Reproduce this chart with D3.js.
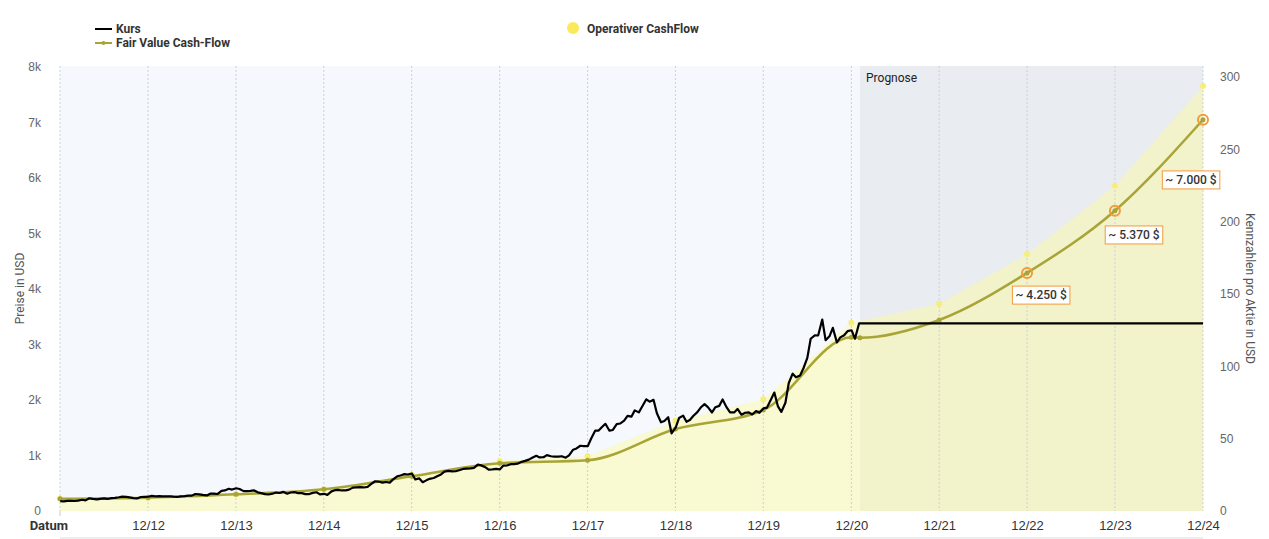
<!DOCTYPE html>
<html>
<head>
<meta charset="utf-8">
<script src="https://cdn.jsdelivr.net/npm/d3@7"></script>
<style>
    body { margin: 0; background: #fff; font-family: Roboto, "Noto Sans", sans-serif; }
    .achse text { font-size: 12px; fill: #666; }
    .xachse text { font-size: 13px; fill: #333; }
</style>
</head>
<body>
<script>
//Kurs, halbmonatlich ab 01.01.2012 (1. und 15. jedes Monats)
var kursWerte = [
    179, 175, 184, 183, 180, 186, 202, 191, 230, 218, 208, 219, 228, 217, 233, 238, 248, 260, 254, 244, 233, 226, 252, 254,
    257, 272, 265, 268, 265, 262, 266, 258, 253, 264, 269, 276, 277, 306, 301, 290, 280, 312, 312, 306, 364, 370, 400, 386,
    410, 396, 358, 357, 362, 372, 336, 323, 304, 297, 312, 332, 324, 345, 312, 333, 339, 323, 322, 305, 305, 327, 338, 300,
    310, 290, 354, 375, 380, 370, 372, 385, 421, 426, 429, 424, 434, 483, 536, 531, 512, 522, 512, 570, 626, 640, 664, 658,
    676, 570, 587, 520, 552, 580, 594, 625, 659, 710, 722, 715, 716, 735, 758, 764, 769, 778, 837, 822, 790, 745, 750, 760,
    750, 818, 823, 843, 845, 852, 886, 903, 925, 960, 995, 965, 968, 1006, 987, 980, 980, 987, 961, 1002, 1105, 1127, 1176, 1168,
    1169, 1305, 1450, 1450, 1512, 1571, 1447, 1460, 1566, 1576, 1629, 1715, 1700, 1813, 1777, 1882, 2013, 1970, 2003, 1760, 1598, 1620, 1690, 1400,
    1502, 1675, 1718, 1608, 1640, 1712, 1781, 1864, 1926, 1871, 1775, 1870, 1894, 2010, 1867, 1776, 1776, 1839, 1736, 1767, 1777, 1739, 1800, 1769,
    1848, 1862, 2008, 2134, 1884, 1785, 1950, 2307, 2474, 2409, 2442, 2572, 2759, 3104, 3165, 3162, 3450, 3078, 3148, 3300, 3036, 3128, 3168, 3240,
    3256, 3104, 3380
];
var kursLetzter = 3380;

//Fair Value Cash-Flow (linke Achse)
var fvDaten = ["2011-12-31", "2012-12-31", "2013-12-31", "2014-12-31", "2015-12-31", "2016-12-31", "2017-12-31",
    "2018-12-31", "2019-12-31", "2020-12-31", "2021-02-05", "2021-12-31", "2022-12-31", "2023-12-31", "2024-12-31"];
var fvWerte = [222, 240, 300, 390, 625, 859, 913, 1477, 1820, 3130, 3120, 3441, 4290, 5410, 7050];

//Labels fuer Prognose-Jahre
var fvLabelJahre = ["2022-12-31", "2023-12-31", "2024-12-31"];
var fvLabelTexte = ["~ 4.250 $", "~ 5.370 $", "~ 7.000 $"];

//Operativer CashFlow pro Aktie (rechte Achse)
var ocfDaten = ["2011-12-31", "2012-12-31", "2013-12-31", "2014-12-31", "2015-12-31", "2016-12-31", "2017-12-31",
    "2018-12-31", "2019-12-31", "2020-12-31", "2021-12-31", "2022-12-31", "2023-12-31", "2024-12-31"];
var ocfWerte = [8.5, 9.2, 11.5, 15.0, 25.3, 34.6, 38.0, 62.4, 77.2, 130.2, 143.3, 177.6, 224.9, 293.8];

var linksTicks = [0, 1000, 2000, 3000, 4000, 5000, 6000, 7000, 8000];
var rechtsTicks = [0, 50, 100, 150, 200, 250, 300];
var prognoseStart = "2021-02-05";

window.onload = zeichne;

function zeichne(){
    var width = 1269,
        height = 539;
    var links = 60, rechts = 1203, oben = 66, unten = 511;

    var parse = d3.timeParse("%Y-%m-%d");

    var svg = d3.select("body")
        .append("svg")
        .attr("width", width)
        .attr("height", height);

    var x = d3.scaleTime()
        .domain([parse("2011-12-31"), parse("2024-12-31")])
        .range([links, rechts]);
    var yL = d3.scaleLinear().domain([0, 8000]).range([unten, 67]);
    var yR = d3.scaleLinear().domain([0, 300]).range([unten, 77]);

    var pStart = parse(prognoseStart);

    //hintergruende
    svg.append("rect")
        .attr("x", links).attr("y", oben)
        .attr("width", x(pStart) - links).attr("height", unten - oben)
        .attr("fill", "#f5f8fd");
    svg.append("rect")
        .attr("x", x(pStart)).attr("y", oben)
        .attr("width", rechts - x(pStart)).attr("height", unten - oben)
        .attr("fill", "#e9ecf1");

    //operativer cashflow flaeche
    var ocf = ocfDaten.map(function(d, i){ return {d: parse(d), v: ocfWerte[i]}; });
    svg.append("path")
        .datum(ocf)
        .attr("fill", "#fffa96")
        .attr("fill-opacity", 0.42)
        .attr("d", d3.area()
            .x(function(d){ return x(d.d); })
            .y0(yR(0))
            .y1(function(d){ return yR(d.v); }));

    //vertikale gitterlinien
    var jahre = d3.range(2012, 2025).map(function(j){ return parse(j + "-12-31"); });
    svg.selectAll(".grid")
        .data([parse("2011-12-31")].concat(jahre))
        .enter()
        .append("line")
        .attr("x1", function(d){ return x(d); })
        .attr("x2", function(d){ return x(d); })
        .attr("y1", oben).attr("y2", unten)
        .attr("stroke", "#cdd0d6")
        .attr("stroke-width", 1)
        .attr("stroke-dasharray", "2,2");

    //ocf punkte
    svg.selectAll(".ocfpunkt")
        .data(ocf)
        .enter()
        .append("circle")
        .attr("cx", function(d){ return x(d.d); })
        .attr("cy", function(d){ return yR(d.v); })
        .attr("r", 3)
        .attr("fill", "#f6ee78");

    svg.append("text")
        .attr("x", x(pStart) + 6).attr("y", 82)
        .attr("font-size", 12).attr("fill", "#222")
        .text("Prognose");

    //fair value linie
    var fv = fvDaten.map(function(d, i){ return {d: parse(d), v: fvWerte[i]}; });
    svg.append("path")
        .datum(fv)
        .attr("fill", "none")
        .attr("stroke", "#a8a436")
        .attr("stroke-width", 2.5)
        .attr("d", d3.line()
            .curve(d3.curveMonotoneX)
            .x(function(d){ return x(d.d); })
            .y(function(d){ return yL(d.v); }));
    svg.selectAll(".fvpunkt")
        .data(fv)
        .enter()
        .append("circle")
        .attr("cx", function(d){ return x(d.d); })
        .attr("cy", function(d){ return yL(d.v); })
        .attr("r", 2.5)
        .attr("fill", "#a8a436");

    //kurs
    var kurs = kursWerte.map(function(v, i){
        var m = Math.floor(i / 2);
        return {d: new Date(2012, m, i % 2 ? 15 : 1), v: v};
    });
    kurs.push({d: parse("2024-12-31"), v: kursLetzter});
    svg.append("path")
        .datum(kurs)
        .attr("fill", "none")
        .attr("stroke", "#000")
        .attr("stroke-width", 2.2)
        .attr("stroke-linejoin", "round")
        .attr("d", d3.line()
            .x(function(d){ return x(d.d); })
            .y(function(d){ return yL(d.v); }));

    //prognose labels
    var versatz = [[14, 22], [19, 24], [-12, 60]];
    fvLabelJahre.forEach(function(j, i){
        var dt = parse(j);
        var v = fvWerte[fvDaten.indexOf(j)];
        var px = x(dt), py = yL(v);
        svg.append("circle")
            .attr("cx", px).attr("cy", py).attr("r", 5)
            .attr("fill", "none")
            .attr("stroke", "#f39a3c")
            .attr("stroke-width", 2);
        var g = svg.append("g")
            .attr("transform", "translate(" + (px + versatz[i][0]) + "," + (py + versatz[i][1]) + ")");
        var rect = g.append("rect");
        var t = g.append("text")
            .attr("text-anchor", "middle")
            .attr("dy", "0.35em")
            .attr("font-size", 12)
            .attr("font-weight", 500)
            .attr("fill", "#333")
            .text(fvLabelTexte[i]);
        var bb = t.node().getBBox();
        rect.attr("x", bb.x - 3).attr("y", bb.y - 2)
            .attr("width", bb.width + 6).attr("height", bb.height + 4)
            .attr("fill", "#fff")
            .attr("stroke", "#f39a3c")
            .attr("stroke-width", 1);
    });

    //achsen
    var xAchse = svg.append("g")
        .attr("class", "xachse")
        .attr("transform", "translate(0," + unten + ")")
        .call(d3.axisBottom(x)
            .tickValues(jahre)
            .tickSize(0)
            .tickPadding(10)
            .tickFormat(d3.timeFormat("%m/%y")));
    xAchse.select(".domain").remove();
    svg.append("line")
        .attr("x1", links).attr("x2", links)
        .attr("y1", unten).attr("y2", unten + 5)
        .attr("stroke", "#ccc");
    svg.append("text")
        .attr("x", 68).attr("y", 530)
        .attr("text-anchor", "end")
        .attr("font-size", 13).attr("font-weight", "bold").attr("fill", "#333")
        .text("Datum");
    svg.append("line")
        .attr("x1", links).attr("x2", rechts)
        .attr("y1", 538).attr("y2", 538)
        .attr("stroke", "#ddd");

    var lAchse = svg.append("g")
        .attr("class", "achse")
        .attr("transform", "translate(" + (links - 16) + ",0)")
        .call(d3.axisLeft(yL)
            .tickValues(linksTicks)
            .tickSize(0)
            .tickFormat(function(d){ return d === 0 ? "0" : (d / 1000) + "k"; }));
    lAchse.select(".domain").remove();

    var rAchse = svg.append("g")
        .attr("class", "achse")
        .attr("transform", "translate(" + (rechts + 14) + ",0)")
        .call(d3.axisRight(yR)
            .tickValues(rechtsTicks)
            .tickSize(0));
    rAchse.select(".domain").remove();

    svg.append("text")
        .attr("transform", "translate(24," + ((oben + unten) / 2) + ") rotate(-90)")
        .attr("text-anchor", "middle")
        .attr("font-size", 12).attr("fill", "#555")
        .text("Preise in USD");
    svg.append("text")
        .attr("transform", "translate(1246," + ((oben + unten) / 2) + ") rotate(90)")
        .attr("text-anchor", "middle")
        .attr("font-size", 12).attr("fill", "#555")
        .text("Kennzahlen pro Aktie in USD");

    //legende
    var leg = svg.append("g").attr("font-size", 12).attr("font-weight", "bold").attr("fill", "#333");
    leg.append("line").attr("x1", 95).attr("x2", 112).attr("y1", 29).attr("y2", 29)
        .attr("stroke", "#000").attr("stroke-width", 2);
    leg.append("text").attr("x", 116).attr("y", 33).text("Kurs");
    leg.append("line").attr("x1", 95).attr("x2", 112).attr("y1", 43).attr("y2", 43)
        .attr("stroke", "#a8a436").attr("stroke-width", 2);
    leg.append("circle").attr("cx", 103.5).attr("cy", 43).attr("r", 2).attr("fill", "#a8a436");
    leg.append("text").attr("x", 116).attr("y", 47).text("Fair Value Cash-Flow");
    leg.append("circle").attr("cx", 573).attr("cy", 28).attr("r", 6).attr("fill", "#fbe95c");
    leg.append("text").attr("x", 587).attr("y", 33).text("Operativer CashFlow");
};
</script>
</body>
</html>
